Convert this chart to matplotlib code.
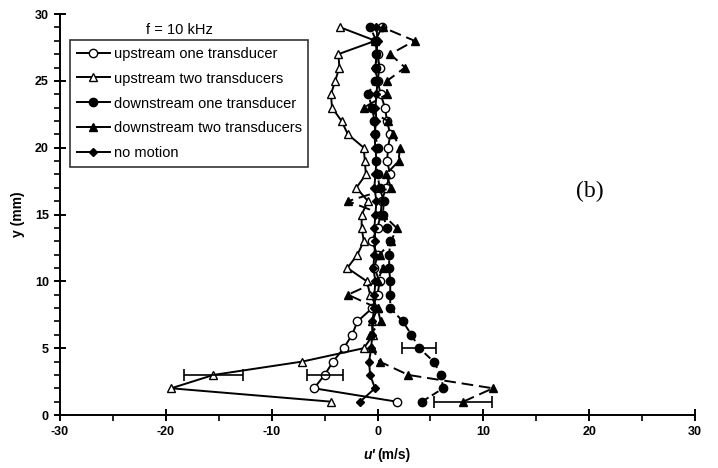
import numpy as np
import matplotlib.pyplot as plt
from matplotlib.ticker import MultipleLocator

plt.rcParams['font.family'] = ['Liberation Sans', 'DejaVu Sans']
plt.rcParams['axes.unicode_minus'] = False

y_mm = list(range(1, 30))

upstream_one = [1.8, -6.0, -5.0, -4.2, -3.2, -2.4, -1.9, -0.5, 0.0, 0.2,
                -0.3, 0.0, -0.55, 0.0, 0.3, 0.4, 0.8, 1.2, 0.9, 1.0,
                1.2, 0.9, 0.7, 0.3, 0.0, 0.2, 0.0, -0.2, 0.4]
upstream_two = [-4.4, -19.5, -15.5, -7.1, -1.3, -0.4, -0.5, 0.0, -0.7, -1.0,
                -2.85, -1.9, -1.3, -1.5, -1.5, -0.9, -2.0, -1.1, -1.2, -1.3,
                -2.8, -3.4, -4.3, -4.4, -4.0, -3.6, -3.7, -0.2, -3.5]
downstream_one = [4.2, 6.2, 6.0, 5.3, 3.95, 3.2, 2.4, 1.2, 1.2, 1.2,
                  1.1, 1.1, 1.2, 0.9, 0.5, 0.6, 0.2, 0.0, -0.1, 0.0,
                  -0.2, -0.3, -0.5, -0.9, -0.24, -0.1, -0.1, -0.1, -0.7]
downstream_two = [8.1, 10.9, 2.9, 0.2, -0.5, -0.7, 0.3, 0.0, -2.8, 0.0,
                  0.5, 0.2, 1.3, 1.8, 0.5, -2.8, 1.3, 0.8, 2.0, 2.1,
                  1.5, 1.0, -1.3, 0.9, 0.9, 2.6, 1.2, 3.5, 0.5]
no_motion = [-1.65, -0.24, -0.7, -0.8, -0.6, -0.5, -0.5, -0.3, -0.3, -0.2,
             -0.4, -0.3, -0.2, -0.3, -0.2, -0.1, -0.3, -0.2, -0.1, -0.2,
             -0.3, -0.1, -0.2, -0.1, 0.0, -0.2, -0.1, 0.0, -0.1]

# error bars: (y, half width)
err_up_one = (3, 1.7)
err_up_two = (3, 2.8)
err_down_one = (5, 1.6)
err_down_two = (1, 2.75)

fig = plt.figure(figsize=(7.18, 4.68), dpi=100)
ax = fig.add_axes([0.0836, 0.1132, 0.8844, 0.8568])

k = dict(color='black', lw=1.4, ms=6, mec='black', mew=1)
ax.plot(upstream_one, y_mm, marker='o', mfc='white', ls='-', label='upstream one transducer', **k)
ax.plot(upstream_two, y_mm, marker='^', mfc='white', ls='-', label='upstream two transducers', **k)
ax.plot(downstream_one, y_mm, marker='o', mfc='black', ls=(0, (4, 2)), label='downstream one transducer', **k)
ax.plot(downstream_two, y_mm, marker='^', mfc='black', ls=(0, (6, 3)), label='downstream two transducers', **k)
ax.plot(no_motion, y_mm, marker='D', mfc='black', ls='-', label='no motion',
        color='black', lw=1.4, ms=4.5, mec='black')

for series, (yy, e) in [(upstream_one, err_up_one), (upstream_two, err_up_two),
                         (downstream_one, err_down_one), (downstream_two, err_down_two)]:
    ax.errorbar(series[yy - 1], yy, xerr=e, fmt='none', ecolor='black',
                elinewidth=1.2, capsize=4, capthick=1.2)

ax.set_xlim(-30, 30)
ax.set_ylim(0, 30)
ax.spines['top'].set_visible(False)
ax.spines['right'].set_visible(False)
ax.spines['left'].set_linewidth(1.4)
ax.spines['bottom'].set_linewidth(1.4)

ax.xaxis.set_major_locator(MultipleLocator(10))
ax.xaxis.set_minor_locator(MultipleLocator(5))
ax.yaxis.set_major_locator(MultipleLocator(5))
ax.yaxis.set_minor_locator(MultipleLocator(1))
ax.tick_params(which='major', direction='inout', length=9, width=1.4, labelsize=9)
ax.tick_params(which='minor', direction='out', length=4, width=1.2)
for t in ax.get_xticklabels() + ax.get_yticklabels():
    t.set_fontweight('bold')

fig.text(0.525, 0.027, "(m/s)", fontsize=10, fontweight='bold', ha='left', va='center')
fig.text(0.522, 0.027, "u'", fontsize=10, fontweight='bold', style='italic', ha='right', va='center')
ax.set_ylabel('y (mm)', fontsize=10, fontweight='bold')
ax.yaxis.set_label_coords(-0.055, 0.5)

leg = ax.legend(loc='upper left', bbox_to_anchor=(0.0157, 0.935), fontsize=10.5,
                frameon=True, fancybox=False, edgecolor='black', handlelength=2.3,
                borderpad=0.45, labelspacing=0.75, handletextpad=0.25,
                borderaxespad=0)
leg.get_frame().set_linewidth(1.2)
for h in leg.get_lines():
    h.set_linestyle('-')
ax.text(-18.7, 28.8, 'f = 10 kHz', fontsize=10.5, ha='center', va='center')

ax.text(20.1, 16.7, '(b)', fontsize=17, family='Liberation Serif', ha='center', va='center')

fig.savefig('out.png', dpi=100)
